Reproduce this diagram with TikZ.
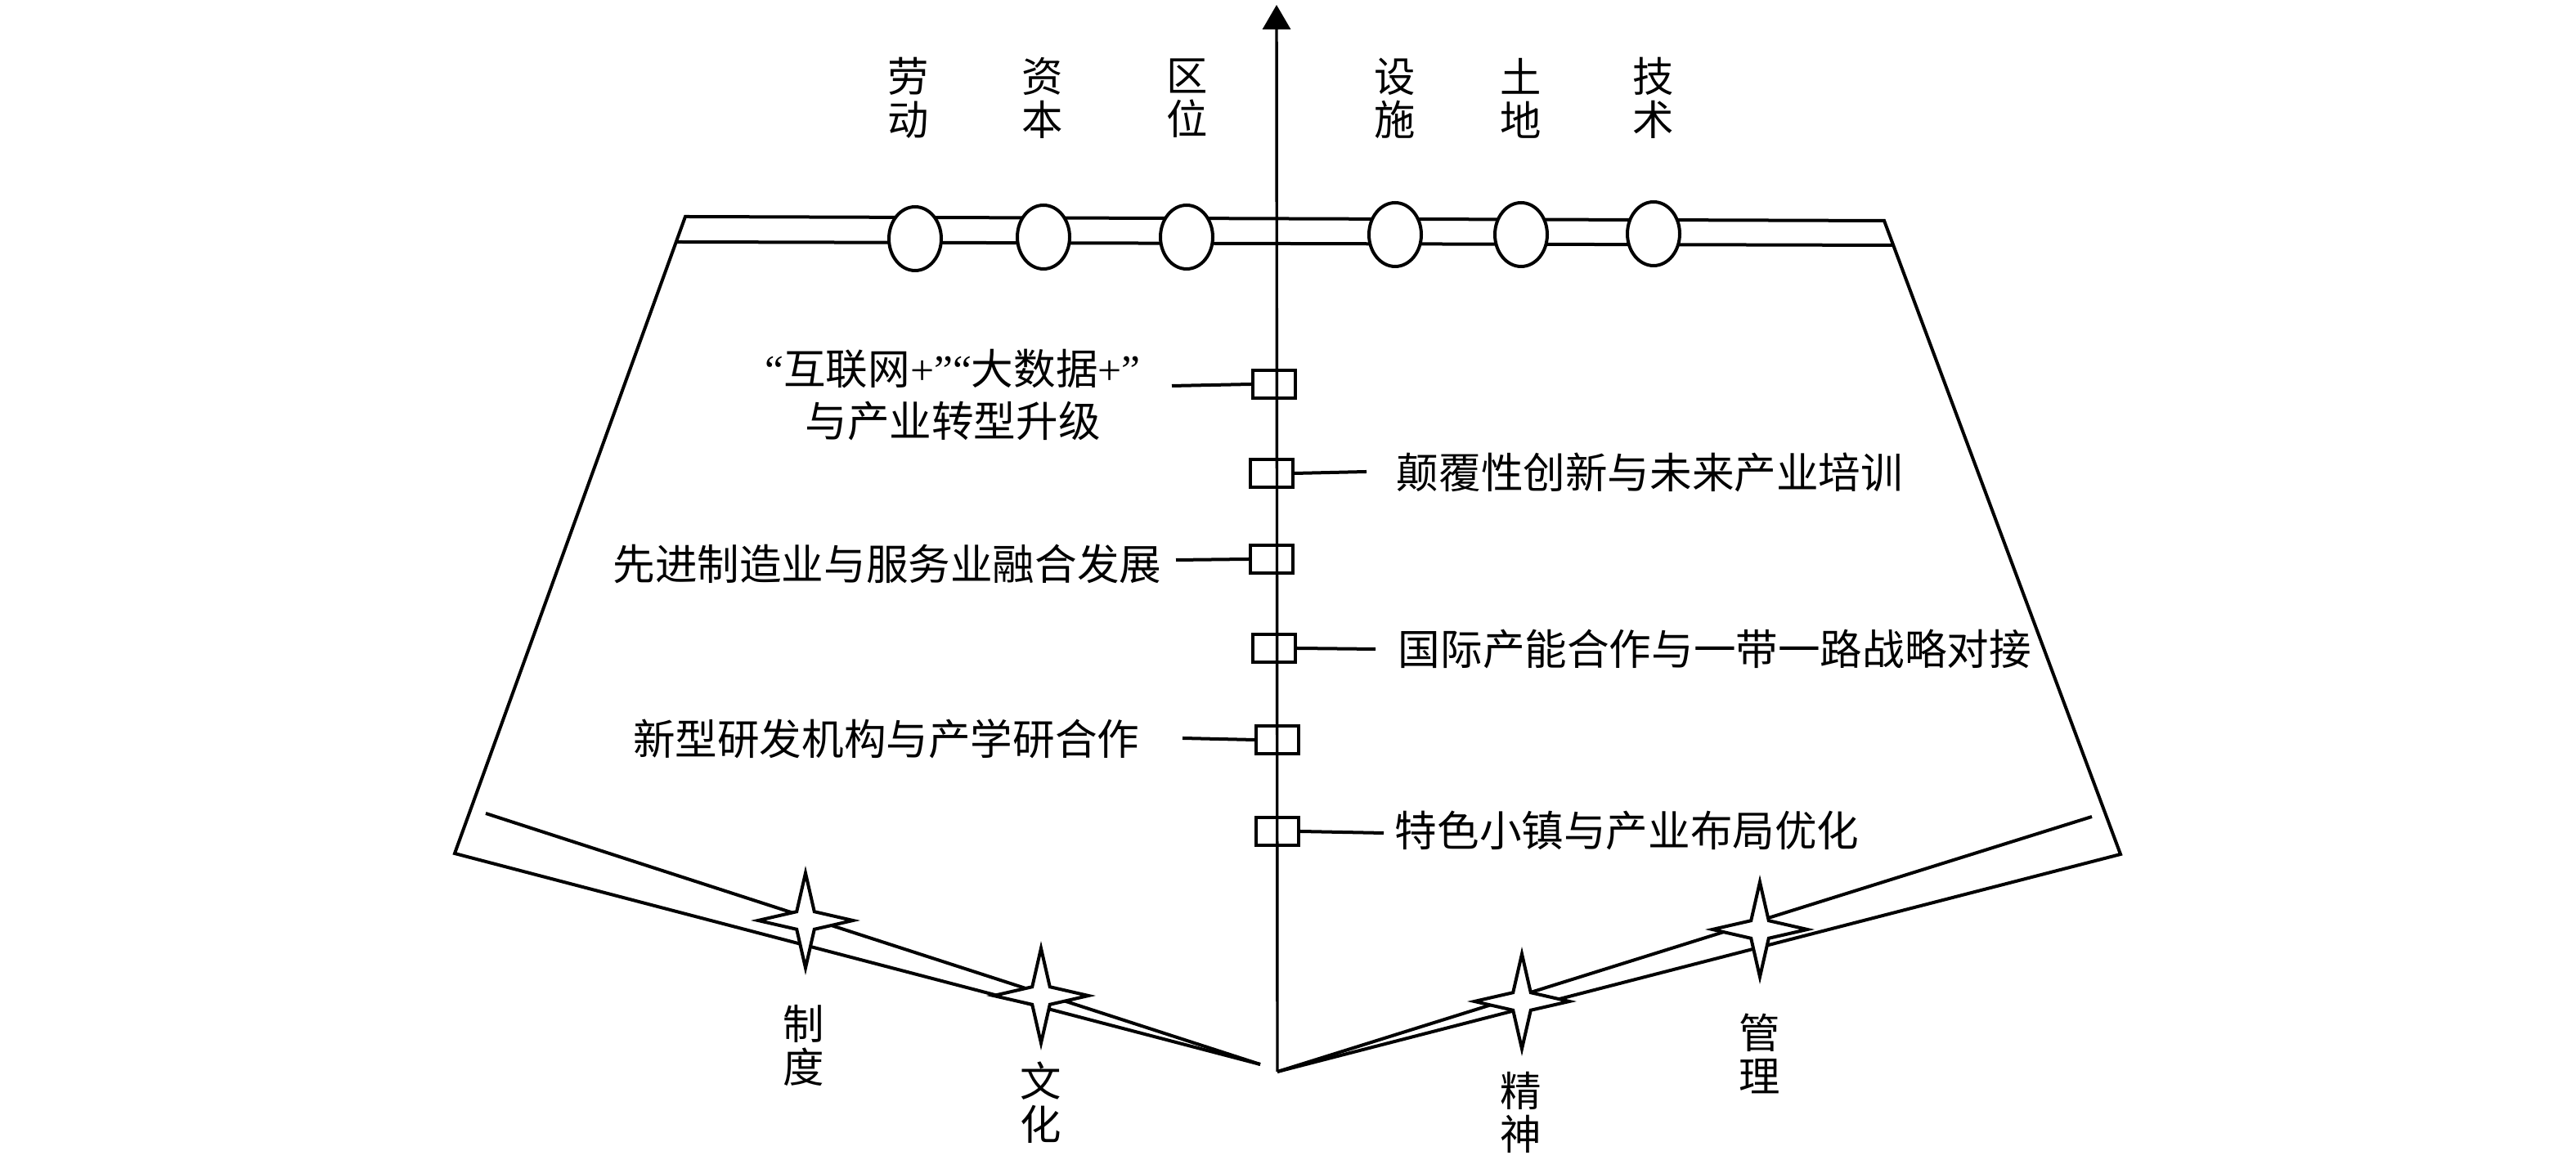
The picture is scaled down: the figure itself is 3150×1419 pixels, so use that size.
\documentclass[tikz,border=0pt]{standalone}
\usepackage{fontspec}
\setmainfont{Liberation Serif}
\newfontfamily\cjk{Noto Sans CJK SC}
\newfontfamily\lat{Liberation Serif}
\usetikzlibrary{arrows.meta,shapes.geometric}
\begin{document}
\begin{tikzpicture}[x=0.25pt,y=-0.25pt,
  frameline/.style={line width=1pt,line join=miter},
  axisline/.style={line width=0.85pt},
  conn/.style={line width=1pt},
  lbl/.style={font=\cjk\fontsize{12.9pt}{16.2pt}\selectfont,inner sep=0pt,align=center},
  vlbl/.style={font=\cjk\fontsize{12.6pt}{13.2pt}\selectfont,inner sep=0pt,align=center},
  ring/.style={draw,ellipse,fill=white,line width=1pt,minimum width=16pt,minimum height=19.5pt,inner sep=0pt},
  sq/.style={draw,line width=1pt,minimum width=13pt,minimum height=8.5pt,inner sep=0pt},
  spark/.style={draw,fill=white,star,star points=4,star point ratio=3.8,minimum size=29pt,inner sep=0pt,line width=1pt}]
\useasboundingbox (0,0) rectangle (3150,1419);
% frame
\coordinate (TL) at (838,265);
\coordinate (TR) at (2304,270);
\coordinate (BL) at (556,1044);
\coordinate (BR) at (2593,1045);
\coordinate (LV) at (1541,1302);
\coordinate (AP) at (1562,1311);
\coordinate (IL) at (594,995);
\coordinate (IR) at (2558,999);
\coordinate (L2a) at (828,296);
\coordinate (L2b) at (2315,300);
\coordinate (TOP) at (1561,6);
\draw[frameline] (LV) -- (BL) -- (TL) -- (TR) -- (BR) -- (AP);
\draw[frameline] (IL) -- (LV);
\draw[frameline] (AP) -- (IR);
\draw[frameline] (L2a) -- (L2b);
% axis
\draw[axisline,-{Triangle[length=7.5pt,width=8.5pt]}] (AP) -- (TOP);
% ellipses
\node[ring] (e1) at (1119,292) {};
\node[ring] (e2) at (1276,290) {};
\node[ring] (e3) at (1451,290) {};
\node[ring] (e4) at (1706,287) {};
\node[ring] (e5) at (1860,287) {};
\node[ring] (e6) at (2022,286) {};
% top labels
\node[vlbl] (k1) at (1111,120) {劳\\动};
\node[vlbl] (k2) at (1275,120) {资\\本};
\node[vlbl] (k3) at (1452,120) {区\\位};
\node[vlbl] (k4) at (1706,120) {设\\施};
\node[vlbl] (k5) at (1860,120) {土\\地};
\node[vlbl] (k6) at (2022,120) {技\\术};
% boxes on axis
\node[sq] (b1) at (1558,470) {};
\node[sq] (b2) at (1555,579) {};
\node[sq] (b3) at (1555,684) {};
\node[sq] (b4) at (1558,793) {};
\node[sq] (b5) at (1562,905) {};
\node[sq] (b6) at (1562,1017) {};
% texts
\node[lbl] (t1) at (1165,483) {{\lat “}互联网{\lat +”“}大数据{\lat +”}\\与产业转型升级};
\node[lbl,anchor=west] (t2) at (1707,578) {颠覆性创新与未来产业培训};
\node[lbl,anchor=east] (t3) at (1421,690) {先进制造业与服务业融合发展};
\node[lbl,anchor=west] (t4) at (1709,794) {国际产能合作与一带一路战略对接};
\node[lbl,anchor=east] (t5) at (1394,904) {新型研发机构与产学研合作};
\node[lbl,anchor=west] (t6) at (1705,1016) {特色小镇与产业布局优化};
% connector ends
\coordinate (c1) at (1433,472);
\coordinate (c2) at (1671,577);
\coordinate (c3) at (1438,685);
\coordinate (c4) at (1682,794);
\coordinate (c5) at (1446,903);
\coordinate (c6) at (1692,1019);
\draw[conn] (b1.west) -- (c1);
\draw[conn] (b2.east) -- (c2);
\draw[conn] (b3.west) -- (c3);
\draw[conn] (b4.east) -- (c4);
\draw[conn] (b5.west) -- (c5);
\draw[conn] (b6.east) -- (c6);
% stars
\node[spark] (s1) at (985,1126) {};
\node[spark] (s2) at (1273,1218) {};
\node[spark] (s3) at (1861,1225) {};
\node[spark] (s4) at (2152,1137) {};
% star labels
\node[vlbl] (w1) at (983,1279) {制\\度};
\node[vlbl] (w2) at (1273,1349) {文\\化};
\node[vlbl] (w3) at (1860,1361) {精\\神};
\node[vlbl] (w4) at (2152,1289) {管\\理};
\end{tikzpicture}
\end{document}
